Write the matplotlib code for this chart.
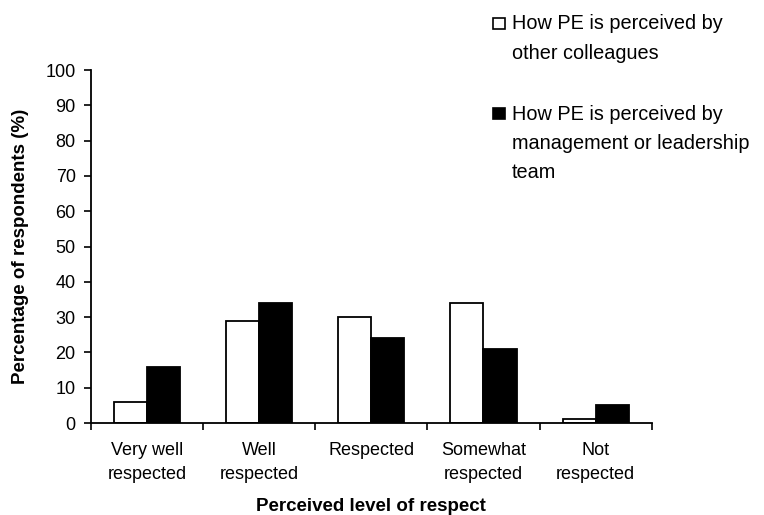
import numpy as np
import matplotlib.pyplot as plt
from matplotlib.patches import Rectangle

categories = ["Very well\nrespected", "Well\nrespected", "Respected", "Somewhat\nrespected", "Not\nrespected"]
colleagues = [6, 29, 30, 34, 1]
management = [16, 34, 24, 21, 5]
series_labels = ["How PE is perceived by\nother colleagues",
                 "How PE is perceived by\nmanagement or leadership\nteam"]
series_colors = ['white', 'black']

plt.rcParams['font.family'] = ['Liberation Sans', 'DejaVu Sans']

fig = plt.figure(figsize=(7.64, 5.15), dpi=100)
ax = fig.add_axes([0.119, 0.1786, 0.734, 0.6854])

x = np.arange(len(categories)) + 0.5
w = 0.295
ax.bar(x - w / 2, colleagues, w, color=series_colors[0], edgecolor='black', linewidth=1.3)
ax.bar(x + w / 2, management, w, color=series_colors[1], edgecolor='black', linewidth=1.3)

ax.set_xlim(0, len(categories))
ax.set_ylim(0, 100)
ax.set_yticks(range(0, 101, 10))
ax.set_xticks(np.arange(len(categories) + 1))
ax.set_xticklabels([])
ax.set_xticks(x, minor=True)
ax.set_xticklabels(categories, minor=True, fontsize=13, linespacing=1.5)
ax.tick_params(axis='x', which='minor', length=0, pad=14)
ax.tick_params(axis='both', which='major', direction='out', length=5, width=1.2, labelsize=13)
ax.tick_params(axis='y', pad=6)
for s in ['top', 'right']:
    ax.spines[s].set_visible(False)
for s in ['left', 'bottom']:
    ax.spines[s].set_linewidth(1.3)

ax.set_ylabel("Percentage of respondents (%)", fontsize=13.5, fontweight='bold')
ax.yaxis.set_label_coords(-0.111, 0.5)
ax.set_xlabel("Perceived level of respect", fontsize=13.5, fontweight='bold')
ax.xaxis.set_label_coords(0.5, -0.213)

# legend drawn by hand so the swatch sits on the first line
leg_tops = [0.972, 0.797]
sq_y = [1 - 29 / 515, 1 - 119 / 515]
for lab, col, ty, sy in zip(series_labels, series_colors, leg_tops, sq_y):
    fig.text(0.670, ty, lab, fontsize=14.3, va='top', ha='left', linespacing=1.68)
    fig.patches.append(Rectangle((493 / 764, sy), 12 / 764, 11 / 515, transform=fig.transFigure,
                                 facecolor=col, edgecolor='black', linewidth=1.2))

fig.savefig("out.png", dpi=100)
